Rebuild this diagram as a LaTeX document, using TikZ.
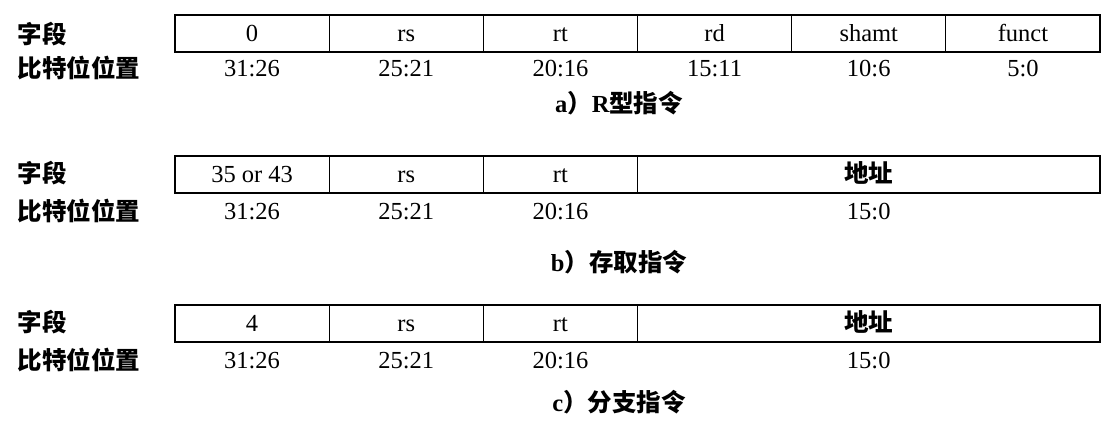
\documentclass[tikz,border=0pt]{standalone}
\usepackage{fontspec}
\setmainfont{Liberation Serif}
\newfontfamily\hei{Noto Sans CJK SC}
\newcommand{\hz}[1]{{\hei\bfseries #1}}
\tikzset{>=latex}
\usetikzlibrary{positioning}

\begin{document}
\begin{tikzpicture}[x=1pt, y=-1pt,
    every node/.style={font=\fontsize{24.5}{29}\selectfont},
    field/.style={draw, line width=0.9pt, minimum width=154.17pt, minimum height=37pt, inner sep=0pt, outer sep=0pt, text height=18.5pt, text depth=2pt},
    widefield/.style={field, minimum width=462.5pt},
    frame/.style={line width=2pt}]
      \useasboundingbox (0,0) rectangle (1114,424);
      % a) R-type
      \node[anchor=west] (af) at (14,34) {\hz{字段}};
      \node[anchor=west] (ab) at (14,68) {\hz{比特位位置}};
      \node[field] (a0) at (252.08,33) {0};
      \node[field, right=0pt of a0] (a1) {rs};
      \node[field, right=0pt of a1] (a2) {rt};
      \node[field, right=0pt of a2] (a3) {rd};
      \node[field, right=0pt of a3] (a4) {shamt};
      \node[field, right=0pt of a4] (a5) {funct};
      \draw[frame] (a0.north west) rectangle (a5.south east);
      \node (a0b) at (a0 |- 0,69) {31:26};
      \node (a1b) at (a1 |- 0,69) {25:21};
      \node (a2b) at (a2 |- 0,69) {20:16};
      \node (a3b) at (a3 |- 0,69) {15:11};
      \node (a4b) at (a4 |- 0,69) {10:6};
      \node (a5b) at (a5 |- 0,69) {5:0};
      \node (acap) at (619,103) {{\bfseries a}\hz{）}{\bfseries R}\hz{型指令}};
      % b) load/store
      \node[anchor=west] (bf) at (14,173) {\hz{字段}};
      \node[anchor=west] (bb) at (14,211) {\hz{比特位位置}};
      \node[field] (b0) at (252.08,174.5) {35 or 43};
      \node[field, right=0pt of b0] (b1) {rs};
      \node[field, right=0pt of b1] (b2) {rt};
      \node[widefield, right=0pt of b2] (b3) {\hz{地址}};
      \draw[frame] (b0.north west) rectangle (b3.south east);
      \node (b0b) at (b0 |- 0,212) {31:26};
      \node (b1b) at (b1 |- 0,212) {25:21};
      \node (b2b) at (b2 |- 0,212) {20:16};
      \node (b3b) at (b3 |- 0,212) {15:0};
      \node (bcap) at (619,262) {{\bfseries b}\hz{）存取指令}};
      % c) branch
      \node[anchor=west] (cf) at (14,322) {\hz{字段}};
      \node[anchor=west] (cb) at (14,360) {\hz{比特位位置}};
      \node[field] (c0) at (252.08,323.5) {4};
      \node[field, right=0pt of c0] (c1) {rs};
      \node[field, right=0pt of c1] (c2) {rt};
      \node[widefield, right=0pt of c2] (c3) {\hz{地址}};
      \draw[frame] (c0.north west) rectangle (c3.south east);
      \node (c0b) at (c0 |- 0,361) {31:26};
      \node (c1b) at (c1 |- 0,361) {25:21};
      \node (c2b) at (c2 |- 0,361) {20:16};
      \node (c3b) at (c3 |- 0,361) {15:0};
      \node (ccap) at (619,402) {{\bfseries c}\hz{）分支指令}};
\end{tikzpicture}
\end{document}
